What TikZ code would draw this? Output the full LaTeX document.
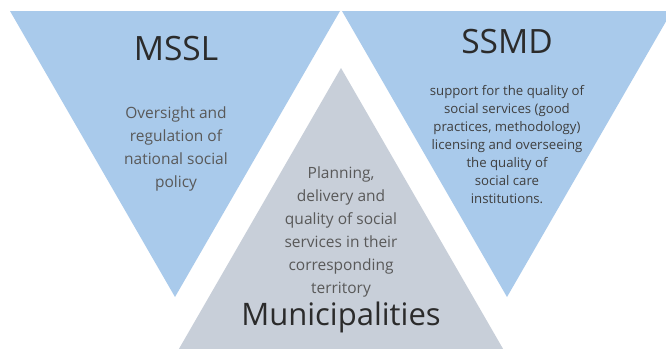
\documentclass[tikz,border=0pt]{standalone}
\usepackage{fontspec}
\setmainfont{Open Sans}
\definecolor{ministryfill}{HTML}{A9CAEB}
\definecolor{localfill}{HTML}{C8CFD9}
\definecolor{headtext}{HTML}{2B2B2B}
\definecolor{bodytext}{HTML}{595959}
\definecolor{smalltext}{HTML}{3F3F3F}

\begin{document}
\begin{tikzpicture}[
  x=1pt, y=-1pt,
  upper/.style={fill=ministryfill, draw=none},
  lower/.style={fill=localfill, draw=none},
  head/.style={anchor=base, text=headtext, inner sep=0pt,
               font=\fontsize{33.5}{40}\selectfont},
  % multi-line nodes: base is the last line
  role/.style={anchor=base, align=center, text=bodytext, inner sep=0pt,
               font=\fontsize{15.5}{23}\selectfont},
  rolesmall/.style={role, text=smalltext,
               font=\fontsize{13.2}{18}\selectfont}
]
\clip (0,0) rectangle (666,348);
\fill[white] (0,0) rectangle (666,348);
% two inverted triangles on top, one upright between them
\fill[upper] (10,11) -- (340,11) -- (175,297) -- cycle;
\fill[upper] (342,11) -- (672,11) -- (507,297) -- cycle;
\fill[lower] (341,68) -- (506,354) -- (176,354) -- cycle;

\node[head] (mssl) at (176,60) {MSSL};
\node[role] (msslrole) at (176,187)
  {Oversight and\\regulation of\\national social\\policy};

\node[head] (ssmd) at (507,53) {SSMD};
\node[rolesmall] (ssmdrole) at (507,203)
  {support for the quality of\\social services (good\\practices, methodology)\\licensing and overseeing\\the quality of\\social care\\institutions.};

\node[role] (munrole) at (341,293)
  {Planning,\\delivery and\\quality of social\\services in their\\corresponding\\territory};
\node[head, font=\fontsize{31}{36}\selectfont] (mun) at (341,325) {Municipalities};
\end{tikzpicture}
\end{document}
